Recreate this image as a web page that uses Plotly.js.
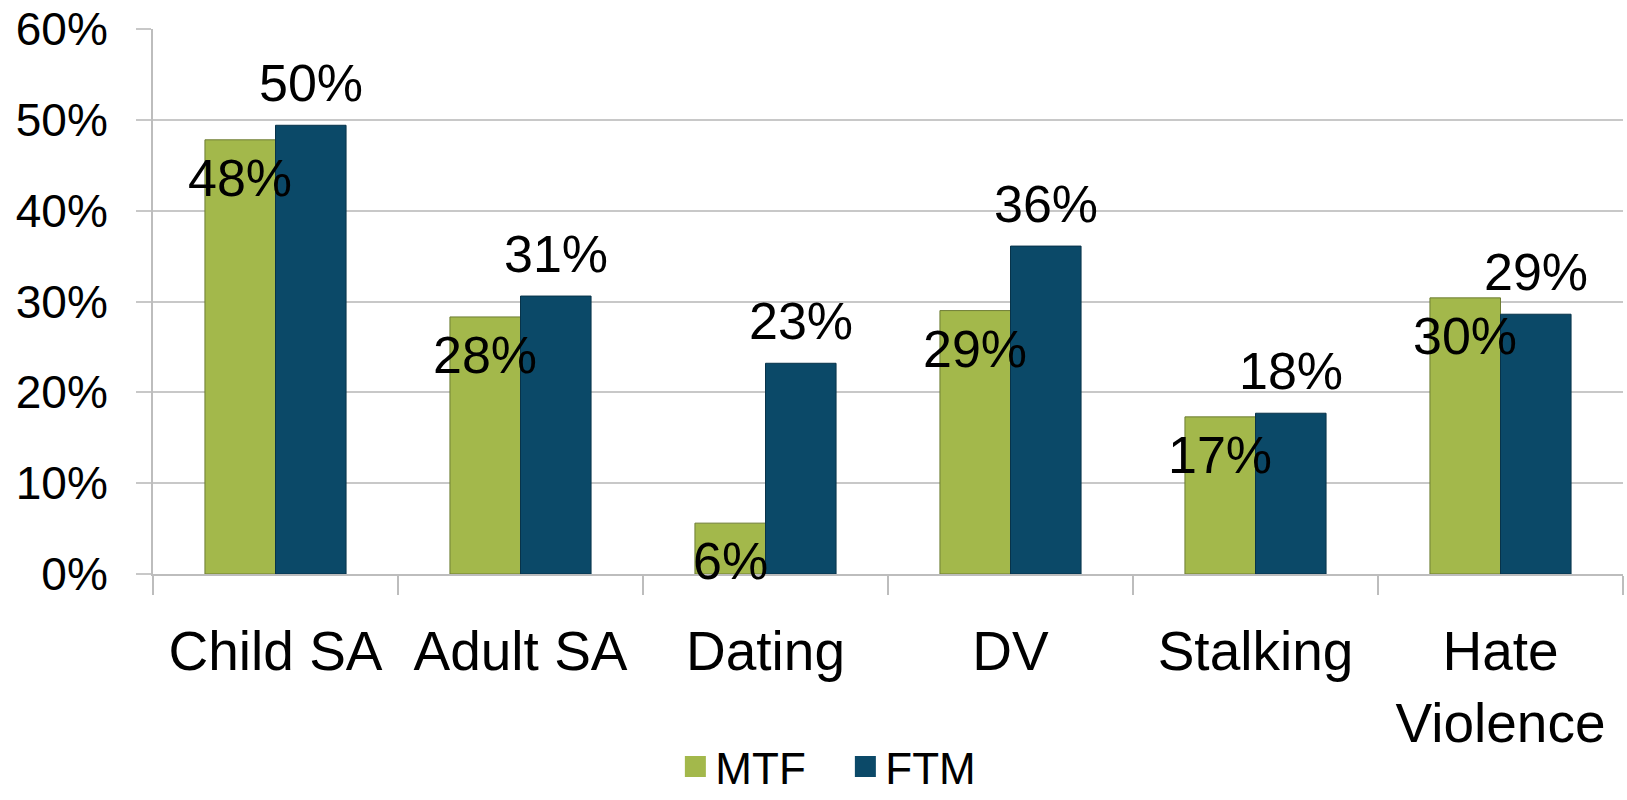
<!DOCTYPE html>
<html>
<head>
<meta charset="utf-8">
<script src="https://cdn.plot.ly/plotly-3.0.1.min.js"></script>
<style>
  html, body { margin: 0; padding: 0; background: #ffffff; }
  #chart { width: 1627px; height: 800px; }
</style>
</head>
<body>
<div id="chart"></div>
<script>
// Data
const categories = ["Child SA", "Adult SA", "Dating", "DV", "Stalking", "Hate<br>Violence"];
const mtfValues = [0.478, 0.283, 0.056, 0.290, 0.173, 0.304];
const ftmValues = [0.494, 0.306, 0.232, 0.361, 0.177, 0.286];
const mtfLabels = ["48%", "28%", "6%", "29%", "17%", "30%"];
const ftmLabels = ["50%", "31%", "23%", "36%", "18%", "29%"];
const seriesNames = ["MTF", "FTM"];
const yTickVals = [0, 0.1, 0.2, 0.3, 0.4, 0.5, 0.6];
const yTickText = ["0%", "10%", "20%", "30%", "40%", "50%", "60%"];

const FONT = "Liberation Sans, Arial, sans-serif";
const MTF_COLOR = "#A3B84B";
const FTM_COLOR = "#0B4968";
const BAR_HALF_OFFSET = 35.25; // px, half of one bar's width inside a group

const traces = [
  {
    type: "bar",
    name: seriesNames[0],
    x: categories,
    y: mtfValues,
    showlegend: false,
    marker: { color: MTF_COLOR, line: { color: "#6E7D33", width: 1 } },
    hoverinfo: "x+y"
  },
  {
    type: "bar",
    name: seriesNames[1],
    x: categories,
    y: ftmValues,
    showlegend: false,
    marker: { color: FTM_COLOR, line: { color: "#07334A", width: 1 } },
    hoverinfo: "x+y"
  },
  // legend-only entries (larger square swatches like the reference)
  {
    type: "scatter",
    mode: "markers",
    name: seriesNames[0],
    x: [null],
    y: [null],
    marker: { symbol: "square", size: 16, color: MTF_COLOR, line: { color: MTF_COLOR, width: 5 } },
    hoverinfo: "skip"
  },
  {
    type: "scatter",
    mode: "markers",
    name: seriesNames[1],
    x: [null],
    y: [null],
    marker: { symbol: "square", size: 16, color: FTM_COLOR, line: { color: FTM_COLOR, width: 5 } },
    hoverinfo: "skip"
  }
];

// Data labels drawn on top of all bars, anchored to bar values via the axes
const annotations = [];
categories.forEach((cat, i) => {
  annotations.push({
    x: cat, y: mtfValues[i], xref: "x", yref: "y",
    text: mtfLabels[i], showarrow: false,
    xanchor: "center", yanchor: "middle",
    xshift: -BAR_HALF_OFFSET, yshift: -38,
    font: { family: FONT, size: 52, color: "#000000" }
  });
  annotations.push({
    x: cat, y: ftmValues[i], xref: "x", yref: "y",
    text: ftmLabels[i], showarrow: false,
    xanchor: "center", yanchor: "middle",
    xshift: BAR_HALF_OFFSET, yshift: 42,
    font: { family: FONT, size: 52, color: "#000000" }
  });
});

const layout = {
  width: 1627,
  height: 800,
  paper_bgcolor: "#ffffff",
  plot_bgcolor: "#ffffff",
  margin: { l: 153, r: 4, t: 29, b: 226, pad: 0, autoexpand: false },
  barmode: "group",
  bargap: 0.424,
  bargroupgap: 0,
  font: { family: FONT, color: "#000000" },
  showlegend: true,
  annotations: annotations,
  legend: {
    orientation: "h",
    xref: "paper",
    x: 0.471,
    xanchor: "center",
    yref: "paper",
    y: -0.354,
    yanchor: "middle",
    font: { family: FONT, size: 44, color: "#000000" },
    traceorder: "normal",
    itemwidth: 30,
    entrywidth: 125,
    entrywidthmode: "pixels"
  },
  xaxis: {
    type: "category",
    showgrid: false,
    showline: true,
    linecolor: "#BDBDBD",
    linewidth: 2,
    ticks: "outside",
    tickson: "boundaries",
    ticklen: 19,
    tickwidth: 2,
    tickcolor: "#BDBDBD",
    ticklabelstandoff: 28,
    tickfont: { family: FONT, size: 55, color: "#000000" },
    tickangle: 0,
    automargin: false
  },
  yaxis: {
    range: [0, 0.6],
    tickvals: yTickVals,
    ticktext: yTickText,
    showgrid: true,
    gridcolor: "#C8C8C8",
    gridwidth: 2,
    showline: true,
    linecolor: "#BDBDBD",
    linewidth: 2,
    ticks: "outside",
    ticklen: 15,
    tickwidth: 2,
    tickcolor: "#C8C8C8",
    ticklabelstandoff: 19,
    tickfont: { family: FONT, size: 46, color: "#000000" },
    zeroline: false,
    automargin: false
  }
};

Plotly.newPlot("chart", traces, layout, { displayModeBar: false, staticPlot: true });
</script>
</body>
</html>
